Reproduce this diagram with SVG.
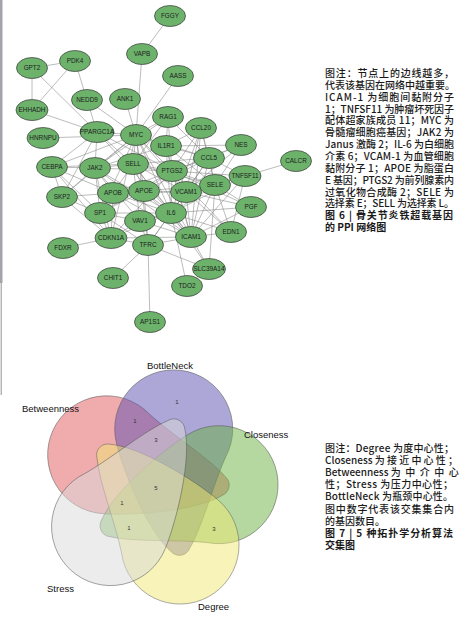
<svg xmlns="http://www.w3.org/2000/svg" width="470" height="627" viewBox="0 0 470 627">
<style>
.e line{stroke:#858585;stroke-width:0.55}
.n ellipse{fill:#6db26b;stroke:#3a3a3a;stroke-width:0.7}
.n text{font-family:'Liberation Sans',Arial,sans-serif;font-size:6.4px;fill:#1c1c1c;text-anchor:middle}
.cap{font-family:'Noto Sans CJK SC','Noto Sans CJK JP',sans-serif;font-size:10px;font-weight:500;fill:#1a1a1a}
.b{font-weight:bold}
.v{stroke:#5a5a5a;stroke-width:0.5;fill-opacity:0.5}
.lab{font-family:'Liberation Sans',Arial,sans-serif;font-size:9.5px;fill:#111}
.num{font-family:'Liberation Sans',Arial,sans-serif;font-size:6px;fill:#333;text-anchor:middle}
</style>
<defs>
<path id="petal" d="M121.6,553.2 A59,59 0 1 0 217.9,499.8 C195,480.5 140,446 108,444 A11,11 0 0 0 97,458 C99,482 116,525 121.6,553.2 Z"/>
</defs>
<rect width="470" height="627" fill="#fff"/>
<rect x="0" y="0" width="2.5" height="283" fill="#a3a3ab"/>
<line x1="1.2" y1="283" x2="1.2" y2="395" stroke="#777" stroke-width="0.8"/>
<g id="connectors" class="e">
<line x1="170" y1="16" x2="142" y2="54"/><line x1="142" y1="54" x2="136" y2="135"/><line x1="178" y1="76" x2="136" y2="135"/>
<line x1="32" y1="68" x2="75" y2="61"/><line x1="32" y1="68" x2="32" y2="110"/><line x1="75" y1="61" x2="32" y2="110"/>
<line x1="75" y1="61" x2="87" y2="100"/><line x1="32" y1="68" x2="97" y2="132"/><line x1="32" y1="110" x2="97" y2="132"/>
<line x1="87" y1="100" x2="97" y2="132"/><line x1="87" y1="100" x2="136" y2="135"/><line x1="125" y1="99" x2="136" y2="135"/>
<line x1="43" y1="138" x2="136" y2="135"/><line x1="97" y1="132" x2="136" y2="135"/><line x1="97" y1="132" x2="52" y2="167"/>
<line x1="97" y1="132" x2="95" y2="168"/><line x1="97" y1="132" x2="133" y2="164"/><line x1="97" y1="132" x2="172" y2="171"/>
<line x1="97" y1="132" x2="171" y2="213"/><line x1="97" y1="132" x2="62" y2="197"/><line x1="296" y1="161" x2="245" y2="176"/>
<line x1="63" y1="248" x2="111" y2="238"/><line x1="113" y1="278" x2="148" y2="245"/><line x1="148" y1="245" x2="150" y2="322"/>
<line x1="187" y1="286" x2="171" y2="213"/><line x1="209" y1="269" x2="148" y2="245"/><line x1="209" y1="269" x2="191" y2="237"/>
<line x1="209" y1="269" x2="171" y2="213"/><line x1="209" y1="269" x2="215" y2="185"/><line x1="231" y1="232" x2="191" y2="237"/>
<line x1="231" y1="232" x2="215" y2="185"/><line x1="231" y1="232" x2="186" y2="192"/><line x1="231" y1="232" x2="171" y2="213"/>
<line x1="231" y1="232" x2="245" y2="176"/><line x1="231" y1="232" x2="172" y2="171"/><line x1="251" y1="207" x2="186" y2="192"/>
<line x1="251" y1="207" x2="171" y2="213"/><line x1="251" y1="207" x2="215" y2="185"/><line x1="251" y1="207" x2="191" y2="237"/>
<line x1="251" y1="207" x2="172" y2="171"/><line x1="241" y1="145" x2="209" y2="158"/><line x1="241" y1="145" x2="215" y2="185"/>
<line x1="241" y1="145" x2="166" y2="146"/><line x1="241" y1="145" x2="172" y2="171"/><line x1="241" y1="145" x2="186" y2="192"/>
<line x1="245" y1="176" x2="209" y2="158"/><line x1="245" y1="176" x2="215" y2="185"/><line x1="245" y1="176" x2="186" y2="192"/>
<line x1="245" y1="176" x2="171" y2="213"/><line x1="245" y1="176" x2="172" y2="171"/><line x1="245" y1="176" x2="191" y2="237"/>
<line x1="168" y1="117" x2="136" y2="135"/><line x1="168" y1="117" x2="166" y2="146"/><line x1="168" y1="117" x2="95" y2="168"/>
<line x1="168" y1="117" x2="133" y2="164"/><line x1="168" y1="117" x2="172" y2="171"/><line x1="168" y1="117" x2="209" y2="158"/>
<line x1="201" y1="128" x2="166" y2="146"/><line x1="201" y1="128" x2="209" y2="158"/><line x1="201" y1="128" x2="172" y2="171"/>
<line x1="201" y1="128" x2="215" y2="185"/><line x1="201" y1="128" x2="171" y2="213"/><line x1="201" y1="128" x2="186" y2="192"/>
<line x1="201" y1="128" x2="191" y2="237"/><line x1="166" y1="146" x2="136" y2="135"/><line x1="166" y1="146" x2="172" y2="171"/>
<line x1="166" y1="146" x2="171" y2="213"/><line x1="166" y1="146" x2="209" y2="158"/><line x1="166" y1="146" x2="215" y2="185"/>
<line x1="166" y1="146" x2="191" y2="237"/><line x1="166" y1="146" x2="95" y2="168"/><line x1="209" y1="158" x2="172" y2="171"/>
<line x1="209" y1="158" x2="215" y2="185"/><line x1="209" y1="158" x2="186" y2="192"/><line x1="209" y1="158" x2="171" y2="213"/>
<line x1="209" y1="158" x2="191" y2="237"/><line x1="209" y1="158" x2="133" y2="164"/><line x1="209" y1="158" x2="144" y2="191"/>
<line x1="136" y1="135" x2="95" y2="168"/><line x1="136" y1="135" x2="133" y2="164"/><line x1="136" y1="135" x2="172" y2="171"/>
<line x1="136" y1="135" x2="171" y2="213"/><line x1="136" y1="135" x2="111" y2="238"/><line x1="136" y1="135" x2="100" y2="213"/>
<line x1="136" y1="135" x2="144" y2="191"/><line x1="136" y1="135" x2="52" y2="167"/><line x1="136" y1="135" x2="62" y2="197"/>
<line x1="136" y1="135" x2="148" y2="245"/><line x1="136" y1="135" x2="186" y2="192"/><line x1="136" y1="135" x2="191" y2="237"/>
<line x1="136" y1="135" x2="209" y2="158"/><line x1="95" y1="168" x2="52" y2="167"/><line x1="95" y1="168" x2="133" y2="164"/>
<line x1="95" y1="168" x2="171" y2="213"/><line x1="95" y1="168" x2="100" y2="213"/><line x1="95" y1="168" x2="172" y2="171"/>
<line x1="95" y1="168" x2="113" y2="193"/><line x1="95" y1="168" x2="62" y2="197"/><line x1="95" y1="168" x2="140" y2="221"/>
<line x1="95" y1="168" x2="111" y2="238"/><line x1="95" y1="168" x2="191" y2="237"/><line x1="52" y1="167" x2="62" y2="197"/>
<line x1="52" y1="167" x2="100" y2="213"/><line x1="52" y1="167" x2="113" y2="193"/><line x1="52" y1="167" x2="111" y2="238"/>
<line x1="52" y1="167" x2="133" y2="164"/><line x1="62" y1="197" x2="100" y2="213"/><line x1="62" y1="197" x2="111" y2="238"/>
<line x1="62" y1="197" x2="113" y2="193"/><line x1="133" y1="164" x2="172" y2="171"/><line x1="133" y1="164" x2="215" y2="185"/>
<line x1="133" y1="164" x2="191" y2="237"/><line x1="133" y1="164" x2="186" y2="192"/><line x1="133" y1="164" x2="171" y2="213"/>
<line x1="133" y1="164" x2="144" y2="191"/><line x1="133" y1="164" x2="140" y2="221"/><line x1="133" y1="164" x2="113" y2="193"/>
<line x1="172" y1="171" x2="215" y2="185"/><line x1="172" y1="171" x2="186" y2="192"/><line x1="172" y1="171" x2="171" y2="213"/>
<line x1="172" y1="171" x2="191" y2="237"/><line x1="172" y1="171" x2="144" y2="191"/><line x1="172" y1="171" x2="113" y2="193"/>
<line x1="172" y1="171" x2="111" y2="238"/><line x1="172" y1="171" x2="100" y2="213"/><line x1="215" y1="185" x2="186" y2="192"/>
<line x1="215" y1="185" x2="171" y2="213"/><line x1="215" y1="185" x2="191" y2="237"/><line x1="215" y1="185" x2="144" y2="191"/>
<line x1="113" y1="193" x2="144" y2="191"/><line x1="113" y1="193" x2="171" y2="213"/><line x1="113" y1="193" x2="186" y2="192"/>
<line x1="113" y1="193" x2="100" y2="213"/><line x1="113" y1="193" x2="111" y2="238"/><line x1="113" y1="193" x2="191" y2="237"/>
<line x1="144" y1="191" x2="186" y2="192"/><line x1="144" y1="191" x2="171" y2="213"/><line x1="144" y1="191" x2="191" y2="237"/>
<line x1="144" y1="191" x2="148" y2="245"/><line x1="144" y1="191" x2="100" y2="213"/><line x1="186" y1="192" x2="171" y2="213"/>
<line x1="186" y1="192" x2="191" y2="237"/><line x1="186" y1="192" x2="148" y2="245"/><line x1="171" y1="213" x2="191" y2="237"/>
<line x1="171" y1="213" x2="140" y2="221"/><line x1="171" y1="213" x2="148" y2="245"/><line x1="171" y1="213" x2="111" y2="238"/>
<line x1="171" y1="213" x2="100" y2="213"/><line x1="140" y1="221" x2="100" y2="213"/><line x1="140" y1="221" x2="191" y2="237"/>
<line x1="140" y1="221" x2="111" y2="238"/><line x1="140" y1="221" x2="148" y2="245"/><line x1="100" y1="213" x2="111" y2="238"/>
<line x1="100" y1="213" x2="148" y2="245"/><line x1="111" y1="238" x2="148" y2="245"/><line x1="111" y1="238" x2="191" y2="237"/>
<line x1="148" y1="245" x2="191" y2="237"/>
</g>
<g id="n-FGGY" class="n"><ellipse cx="170" cy="16" rx="15.5" ry="10.5"/><text x="170" y="18.3">FGGY</text></g>
<g id="n-VAPB" class="n"><ellipse cx="142" cy="54" rx="15.5" ry="10.5"/><text x="142" y="56.3">VAPB</text></g>
<g id="n-AASS" class="n"><ellipse cx="178" cy="76" rx="15.5" ry="10.5"/><text x="178" y="78.3">AASS</text></g>
<g id="n-PDK4" class="n"><ellipse cx="75" cy="61" rx="15.5" ry="10.5"/><text x="75" y="63.3">PDK4</text></g>
<g id="n-GPT2" class="n"><ellipse cx="32" cy="68" rx="15.5" ry="10.5"/><text x="32" y="70.3">GPT2</text></g>
<g id="n-NEDD9" class="n"><ellipse cx="87" cy="100" rx="15.5" ry="10.5"/><text x="87" y="102.3">NEDD9</text></g>
<g id="n-ANK1" class="n"><ellipse cx="125" cy="99" rx="15.5" ry="10.5"/><text x="125" y="101.3">ANK1</text></g>
<g id="n-EHHADH" class="n"><ellipse cx="32" cy="110" rx="16" ry="10.5"/><text x="32" y="112.3">EHHADH</text></g>
<g id="n-HNRNPU" class="n"><ellipse cx="43" cy="138" rx="16" ry="10.5"/><text x="43" y="140.3">HNRNPU</text></g>
<g id="n-PPARGC1A" class="n"><ellipse cx="97" cy="132" rx="17" ry="10.5"/><text x="97" y="134.3">PPARGC1A</text></g>
<g id="n-MYC" class="n"><ellipse cx="136" cy="135" rx="15.5" ry="10.5"/><text x="136" y="137.3">MYC</text></g>
<g id="n-RAG1" class="n"><ellipse cx="168" cy="117" rx="15.5" ry="10.5"/><text x="168" y="119.3">RAG1</text></g>
<g id="n-CCL20" class="n"><ellipse cx="201" cy="128" rx="15.5" ry="10.5"/><text x="201" y="130.3">CCL20</text></g>
<g id="n-IL1R1" class="n"><ellipse cx="166" cy="146" rx="15.5" ry="10.5"/><text x="166" y="148.3">IL1R1</text></g>
<g id="n-NES" class="n"><ellipse cx="241" cy="145" rx="15.5" ry="10.5"/><text x="241" y="147.3">NES</text></g>
<g id="n-CCL5" class="n"><ellipse cx="209" cy="158" rx="15.5" ry="10.5"/><text x="209" y="160.3">CCL5</text></g>
<g id="n-CALCR" class="n"><ellipse cx="296" cy="161" rx="15.5" ry="10.5"/><text x="296" y="163.3">CALCR</text></g>
<g id="n-CEBPA" class="n"><ellipse cx="52" cy="167" rx="15.5" ry="10.5"/><text x="52" y="169.3">CEBPA</text></g>
<g id="n-JAK2" class="n"><ellipse cx="95" cy="168" rx="15.5" ry="10.5"/><text x="95" y="170.3">JAK2</text></g>
<g id="n-SELL" class="n"><ellipse cx="133" cy="164" rx="15.5" ry="10.5"/><text x="133" y="166.3">SELL</text></g>
<g id="n-PTGS2" class="n"><ellipse cx="172" cy="171" rx="15.5" ry="10.5"/><text x="172" y="173.3">PTGS2</text></g>
<g id="n-TNFSF11" class="n"><ellipse cx="245" cy="176" rx="16" ry="10.5"/><text x="245" y="178.3">TNFSF11</text></g>
<g id="n-SELE" class="n"><ellipse cx="215" cy="185" rx="15.5" ry="10.5"/><text x="215" y="187.3">SELE</text></g>
<g id="n-SKP2" class="n"><ellipse cx="62" cy="197" rx="15.5" ry="10.5"/><text x="62" y="199.3">SKP2</text></g>
<g id="n-APOB" class="n"><ellipse cx="113" cy="193" rx="15.5" ry="10.5"/><text x="113" y="195.3">APOB</text></g>
<g id="n-APOE" class="n"><ellipse cx="144" cy="191" rx="15.5" ry="10.5"/><text x="144" y="193.3">APOE</text></g>
<g id="n-VCAM1" class="n"><ellipse cx="186" cy="192" rx="15.5" ry="10.5"/><text x="186" y="194.3">VCAM1</text></g>
<g id="n-PGF" class="n"><ellipse cx="251" cy="207" rx="15.5" ry="10.5"/><text x="251" y="209.3">PGF</text></g>
<g id="n-SP1" class="n"><ellipse cx="100" cy="213" rx="15.5" ry="10.5"/><text x="100" y="215.3">SP1</text></g>
<g id="n-IL6" class="n"><ellipse cx="171" cy="213" rx="15.5" ry="10.5"/><text x="171" y="215.3">IL6</text></g>
<g id="n-VAV1" class="n"><ellipse cx="140" cy="221" rx="15.5" ry="10.5"/><text x="140" y="223.3">VAV1</text></g>
<g id="n-EDN1" class="n"><ellipse cx="231" cy="232" rx="15.5" ry="10.5"/><text x="231" y="234.3">EDN1</text></g>
<g id="n-CDKN1A" class="n"><ellipse cx="111" cy="238" rx="16" ry="10.5"/><text x="111" y="240.3">CDKN1A</text></g>
<g id="n-ICAM1" class="n"><ellipse cx="191" cy="237" rx="15.5" ry="10.5"/><text x="191" y="239.3">ICAM1</text></g>
<g id="n-FDXR" class="n"><ellipse cx="63" cy="248" rx="15.5" ry="10.5"/><text x="63" y="250.3">FDXR</text></g>
<g id="n-TFRC" class="n"><ellipse cx="148" cy="245" rx="15.5" ry="10.5"/><text x="148" y="247.3">TFRC</text></g>
<g id="n-SLC39A14" class="n"><ellipse cx="209" cy="269" rx="16.5" ry="10.5"/><text x="209" y="271.3">SLC39A14</text></g>
<g id="n-CHIT1" class="n"><ellipse cx="113" cy="278" rx="15.5" ry="10.5"/><text x="113" y="280.3">CHIT1</text></g>
<g id="n-TDO2" class="n"><ellipse cx="187" cy="286" rx="15.5" ry="10.5"/><text x="187" y="288.3">TDO2</text></g>
<g id="n-AP1S1" class="n"><ellipse cx="150" cy="322" rx="15.5" ry="10.5"/><text x="150" y="324.3">AP1S1</text></g>
<g id="caption6" class="cap">
<text x="325" y="77" textLength="129" lengthAdjust="spacing">图注：节点上的边线越多，</text>
<text x="325" y="88.9" textLength="130" lengthAdjust="spacing">代表该基因在网络中越重要。</text>
<text x="325" y="100.7" textLength="129" lengthAdjust="spacing">ICAM-1 为细胞间黏附分子</text>
<text x="325" y="112.6" textLength="129" lengthAdjust="spacing">1；TNFSF11 为肿瘤坏死因子</text>
<text x="325" y="124.4" textLength="129" lengthAdjust="spacing">配体超家族成员 11；MYC 为</text>
<text x="325" y="136.3" textLength="129" lengthAdjust="spacing">骨髓瘤细胞癌基因；JAK2 为</text>
<text x="325" y="148.1" textLength="129" lengthAdjust="spacing">Janus 激酶 2；IL-6 为白细胞</text>
<text x="325" y="160" textLength="129" lengthAdjust="spacing">介素 6；VCAM-1 为血管细胞</text>
<text x="325" y="171.8" textLength="129" lengthAdjust="spacing">黏附分子 1；APOE 为脂蛋白</text>
<text x="325" y="183.7" textLength="129" lengthAdjust="spacing">E 基因；PTGS2 为前列腺素内</text>
<text x="325" y="195.5" textLength="129" lengthAdjust="spacing">过氧化物合成酶 2；SELE 为</text>
<text x="325" y="207.4" textLength="129" lengthAdjust="spacing">选择素 E；SELL 为选择素 L。</text>
<text class="b" x="325" y="219.2" textLength="128" lengthAdjust="spacing">图 6 | 骨关节炎铁超载基因</text>
<text class="b" x="325" y="231.1">的 PPI 网络图</text>
</g>
<g id="venn">
<g id="set-betweenness"><use href="#petal" class="v" fill="#E2575C" transform="rotate(144 158 488)"/></g>
<g id="set-bottleneck"><use href="#petal" class="v" fill="#5B50B0" transform="rotate(216 158 488)"/></g>
<g id="set-closeness"><use href="#petal" class="v" fill="#69B141" transform="rotate(288 158 488)"/></g>
<g id="set-degree"><use href="#petal" class="v" fill="#EFE873"/></g>
<g id="set-stress"><use href="#petal" class="v" fill="#D9D9D9" transform="rotate(72 158 488)"/></g>
<text class="lab" x="147" y="369">BottleNeck</text>
<text class="lab" x="22" y="412">Betweenness</text>
<text class="lab" x="244" y="438">Closeness</text>
<text class="lab" x="47" y="592">Stress</text>
<text class="lab" x="198" y="610">Degree</text>
<text class="num" x="177" y="404">1</text>
<text class="num" x="135" y="423">1</text>
<text class="num" x="156" y="442">3</text>
<text class="num" x="156" y="490">5</text>
<text class="num" x="122" y="505">1</text>
<text class="num" x="129" y="530">1</text>
<text class="num" x="214" y="531">3</text>
</g>
<g id="caption7" class="cap">
<text x="325" y="452" textLength="129" lengthAdjust="spacing">图注：Degree 为度中心性；</text>
<text x="325" y="464.1">Closeness <tspan letter-spacing="2.2">为接近中心性；</tspan></text>
<text x="325" y="476.2">Betweenness <tspan letter-spacing="4.5">为中介中心</tspan></text>
<text x="325" y="488.3" textLength="128" lengthAdjust="spacing">性；Stress 为压力中心性；</text>
<text x="325" y="500.4" textLength="128" lengthAdjust="spacing">BottleNeck 为瓶颈中心性。</text>
<text x="325" y="512.5" textLength="129" lengthAdjust="spacing">图中数字代表该交集集合内</text>
<text x="325" y="524.6">的基因数目。</text>
<text class="b" x="325" y="536.7" textLength="128" lengthAdjust="spacing">图 7 | 5 种拓扑学分析算法</text>
<text class="b" x="325" y="548.8">交集图</text>
</g>
</svg>
